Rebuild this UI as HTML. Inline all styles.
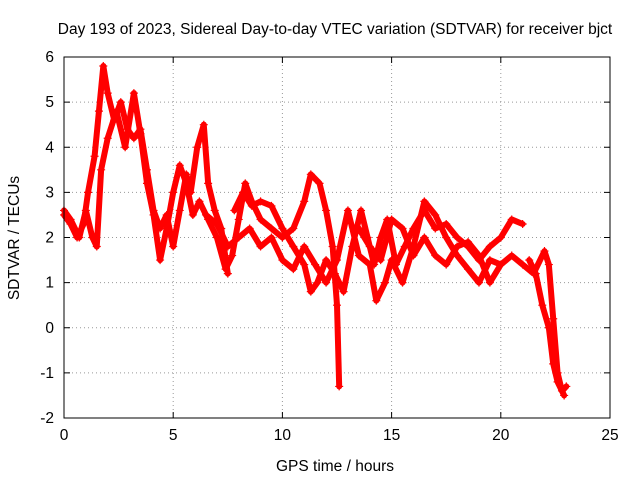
<!DOCTYPE html>
<html><head><meta charset="utf-8"><style>
body{margin:0;background:#fff}
svg text{font-family:"Liberation Sans",sans-serif;font-size:15.5px;fill:#000}
</style></head><body>
<svg id="chart" width="640" height="480" xmlns="http://www.w3.org/2000/svg">
<text x="335" y="34" text-anchor="middle">Day 193 of 2023, Sidereal Day-to-day VTEC variation (SDTVAR) for receiver bjct</text>
<text x="335" y="471" text-anchor="middle">GPS time / hours</text>
<text transform="translate(19,238) rotate(-90)" text-anchor="middle">SDTVAR / TECUs</text>
<g id="grid"></g><g id="ticks"></g><g id="series"></g>
<rect x="64" y="57" width="546" height="361" fill="none" stroke="#000" stroke-width="1"/>
</svg>
<script>
const xTicks=[0,5,10,15,20,25];
const yTicks=[-2,-1,0,1,2,3,4,5,6];
const track1=[[0,2.5],[0.3,2.3],[0.6,2.0],[0.9,2.3],[1.1,3.0],[1.4,3.8],[1.6,4.8],[1.8,5.8],[2.0,5.2],[2.3,4.6],[2.6,5.0],[2.9,4.4],[3.2,4.2],[3.5,4.4],[3.8,3.5],[4.1,2.6],[4.4,2.2],[4.7,2.5],[5.0,1.8],[5.3,2.6],[5.6,3.4],[5.8,3.0],[6.1,4.0],[6.4,4.5],[6.6,3.2],[6.9,2.6],[7.2,2.2],[7.5,1.2]];
const track2=[[0,2.6],[0.3,2.4],[0.7,2.0],[1.0,2.6],[1.3,2.0],[1.5,1.8],[1.7,3.5],[2.0,4.2],[2.4,4.8],[2.8,4.0],[3.2,5.2],[3.5,4.3],[3.8,3.2],[4.1,2.5],[4.4,1.5],[4.7,2.2],[5.0,3.0],[5.3,3.6],[5.6,3.2],[5.9,2.5],[6.2,2.8],[6.6,2.4],[7.0,2.0],[7.4,1.3],[7.7,1.6],[8.0,2.4],[8.3,3.2],[8.6,2.8],[9.0,2.4],[9.5,2.2],[10.0,2.0],[10.5,2.2],[11.0,2.8],[11.3,3.4],[11.7,3.2],[12.0,2.6],[12.3,1.8],[12.5,0.5],[12.6,-1.3]];
const track3=[[7.8,2.6],[8.2,3.0],[8.6,2.7],[9.0,2.8],[9.5,2.7],[10.0,2.2],[10.5,1.8],[11.0,1.4],[11.3,0.8],[11.6,1.0],[12.0,1.5],[12.4,1.2],[12.8,0.8],[13.2,1.8],[13.6,2.6],[13.9,2.0],[14.2,1.4],[14.5,2.0],[14.8,2.4],[15.2,1.4],[15.6,1.8],[16.0,2.2],[16.5,2.6],[17.0,2.2],[17.5,2.3],[18.0,2.0],[18.5,1.8],[19.0,1.5],[19.5,1.8],[20.0,2.0],[20.5,2.4],[21.0,2.3]];
const track4=[[6.5,2.5],[7.0,2.3],[7.5,1.8],[8.0,2.0],[8.5,2.2],[9.0,1.8],[9.5,2.0],[10.0,1.5],[10.5,1.3],[11.0,1.8],[11.5,1.4],[12.0,1.0],[12.5,1.5],[13.0,2.6],[13.5,1.6],[14.0,1.4],[14.3,0.6],[14.7,1.0],[15.0,1.5],[15.5,1.0],[16.0,1.8],[16.5,2.8],[17.0,2.5],[17.5,2.0],[18.0,1.6],[18.5,1.3],[19.0,1.0],[19.5,1.5],[20.0,1.4],[20.5,1.6],[21.0,1.4],[21.5,1.2],[22.0,1.7],[22.2,1.4],[22.4,0.2],[22.6,-1.0],[22.8,-1.4],[23.0,-1.3]];
const track5=[[21.3,1.5],[21.6,1.2],[21.9,0.5],[22.2,0.0],[22.4,-0.8],[22.6,-1.2],[22.9,-1.5]];
const track6=[[13.5,2.2],[14,1.8],[14.5,1.5],[15,2.4],[15.5,2.2],[16,1.6],[16.5,2.0],[17,1.6],[17.5,1.4],[18,1.8],[18.5,1.9],[19,1.6],[19.5,1.0],[20,1.4]];
const tracks=[track1,track2,track3,track4,track5,track6];
const NS="http://www.w3.org/2000/svg";
const X0=64,X1=610,Y0=418,Y1=57;
function sx(v){return X0+(v-0)/(25-0)*(X1-X0);}
function sy(v){return Y0-(v+2)/8*(Y0-Y1);}
function mk(tag,attrs,parent){const e=document.createElementNS(NS,tag);for(const k in attrs)e.setAttribute(k,attrs[k]);parent.appendChild(e);return e;}
const grid=document.getElementById('grid'),ticks=document.getElementById('ticks'),ser=document.getElementById('series');
xTicks.forEach(t=>{
  const x=sx(t);
  if(t>0&&t<25){const g=mk('line',{x1:x,x2:x,y1:Y1,y2:Y0,stroke:'#999','stroke-dasharray':'1,3','stroke-width':1},grid);
  
  }
  mk('line',{x1:x,x2:x,y1:Y0,y2:Y0-6,stroke:'#000'},ticks);
  mk('line',{x1:x,x2:x,y1:Y1,y2:Y1+6,stroke:'#000'},ticks);
  const tx=mk('text',{x:x,y:Y0+22,'text-anchor':'middle'},ticks);tx.textContent=t;
  
  
});
yTicks.forEach(t=>{
  const y=sy(t);
  if(t>-2&&t<6){const g=mk('line',{x1:X0,x2:X1,y1:y,y2:y,stroke:'#999','stroke-dasharray':'1,3','stroke-width':1},grid);
  
  }
  mk('line',{x1:X0,x2:X0+6,y1:y,y2:y,stroke:'#000'},ticks);
  mk('line',{x1:X1,x2:X1-6,y1:y,y2:y,stroke:'#000'},ticks);
  const tx=mk('text',{x:X0-10,y:y+5,'text-anchor':'end'},ticks);tx.textContent=t;
  
  
});
tracks.forEach((tr,i)=>{
  const p=mk('polyline',{points:tr.map(d=>sx(d[0])+','+sy(d[1])).join(' '),fill:'none',stroke:'#f00','stroke-width':6,'stroke-linejoin':'round','stroke-linecap':'round'},ser);
  
  
  tr.forEach(d=>{
    const x=sx(d[0]),y=sy(d[1]);
    const m=mk('path',{d:`M${x-4},${y}H${x+4}M${x},${y-4}V${y+4}`,stroke:'#f00','stroke-width':1.2},ser);
    
    
  });
});
</script>
</body></html>
